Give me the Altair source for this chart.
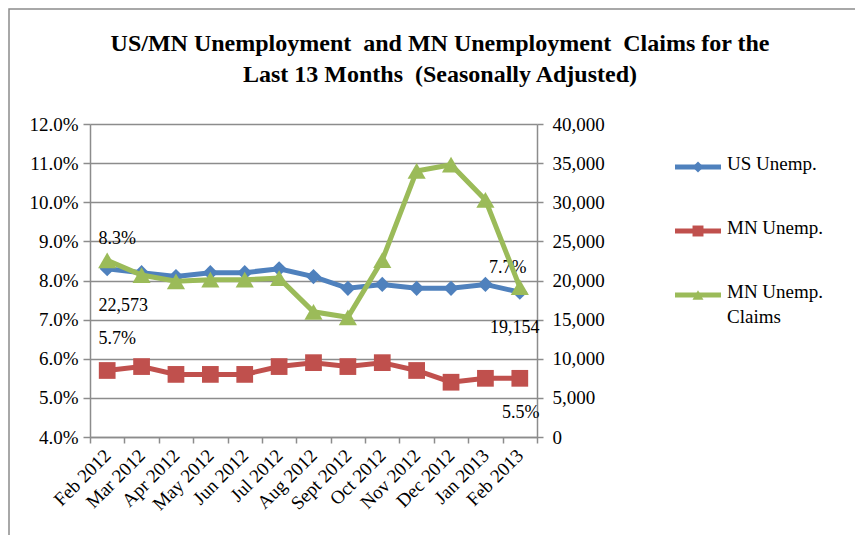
import altair as alt
import pandas as pd

months = ["Feb 2012", "Mar 2012", "Apr 2012", "May 2012", "Jun 2012", "Jul 2012",
          "Aug 2012", "Sept 2012", "Oct 2012", "Nov 2012", "Dec 2012", "Jan 2013", "Feb 2013"]
us_unemp = [8.3, 8.2, 8.1, 8.2, 8.2, 8.3, 8.1, 7.8, 7.9, 7.8, 7.8, 7.9, 7.7]
mn_unemp = [5.7, 5.8, 5.6, 5.6, 5.6, 5.8, 5.9, 5.8, 5.9, 5.7, 5.4, 5.5, 5.5]
mn_claims = [22573, 20700, 19900, 20100, 20100, 20300, 16000, 15300, 22600, 34000, 34800, 30300, 19154]
series_names = ["US Unemp.", "MN Unemp.", "MN Unemp. Claims"]
legend_labels = ["US Unemp.", "MN Unemp.", "MN Unemp.\nClaims"]
series_colors = ["#4F81BD", "#C0504D", "#9BBB59"]
series_shapes = ["diamond", "square", "triangle-up"]
title_lines = ["US/MN Unemployment\u00a0 and MN Unemployment\u00a0 Claims for the",
               "Last 13 Months\u00a0 (Seasonally Adjusted)"]

FONT = "Liberation Serif"
GRAY = "#8C8C8C"
W, H = 447, 313
AX_FS = 19

rates = pd.DataFrame({
    "month": months * 2,
    "series": [series_names[0]] * len(months) + [series_names[1]] * len(months),
    "value": us_unemp + mn_unemp,
})
claims = pd.DataFrame({"month": months, "series": series_names[2], "value": mn_claims})
legend_df = pd.DataFrame({"series": series_names, "label": legend_labels})

color = alt.Color("series:N", scale=alt.Scale(domain=series_names, range=series_colors), legend=None)
shape = alt.Shape("series:N", scale=alt.Scale(domain=series_names, range=series_shapes), legend=None)

band = alt.Scale(type="band", domain=months, paddingInner=0, paddingOuter=0)
x_axis = alt.Axis(title=None, labelAngle=-45, labelAlign="right", labelBaseline="middle",
                  tickBand="extent", tickSize=6, tickColor=GRAY, tickWidth=1.5,
                  domainColor=GRAY, domainWidth=1.5, labelFont=FONT, labelFontSize=AX_FS,
                  labelColor="black", labelPadding=9, grid=False)
x_enc = alt.X("month:N", sort=months, scale=band, bandPosition=0.5, axis=x_axis)

rate_scale = alt.Scale(domain=[4, 12], nice=False, zero=False)
y_rate = alt.Y("value:Q", scale=rate_scale,
               axis=alt.Axis(title=None, values=list(range(4, 13)),
                             labelExpr="format(datum.value, '.1f') + '%'",
                             grid=True, gridColor=GRAY, gridWidth=1.5,
                             tickSize=7, tickColor=GRAY, tickWidth=1.5,
                             domainColor=GRAY, domainWidth=1.5,
                             labelFont=FONT, labelFontSize=AX_FS, labelColor="black", labelPadding=5))

claim_scale = alt.Scale(domain=[0, 40000], nice=False)
y_claims = alt.Y("value:Q", scale=claim_scale,
                 axis=alt.Axis(title=None, orient="right", values=list(range(0, 40001, 5000)),
                               format=",.0f", grid=False,
                               tickSize=6, tickColor=GRAY, tickWidth=1.5,
                               domainColor=GRAY, domainWidth=1.5,
                               labelFont=FONT, labelFontSize=AX_FS, labelColor="black", labelPadding=9))


def label(df, y, dx, dy, fmt):
    d = df.copy()
    d["label"] = d["value"].map(fmt)
    return alt.Chart(d).mark_text(font=FONT, fontSize=18, color="black", dx=dx, dy=dy).encode(
        x=x_enc, y=y, text="label:N")


pct = lambda v: f"{v:.1f}%"
cnt = lambda v: f"{v:,}"

rate_line = alt.Chart(rates).mark_line(strokeWidth=5).encode(x=x_enc, y=y_rate, color=color, detail="series:N")
rate_pts = alt.Chart(rates).mark_point(filled=True, opacity=1).encode(
    x=x_enc, y=y_rate, color=color, shape=shape,
    size=alt.Size("series:N", scale=alt.Scale(domain=series_names, range=[230, 330, 330]), legend=None))
rate_layer = alt.layer(
    rate_line, rate_pts,
    label(pd.DataFrame({"month": [months[0]], "value": [us_unemp[0]]}), y_rate, 10, -30, pct),
    label(pd.DataFrame({"month": [months[-1]], "value": [us_unemp[-1]]}), y_rate, -12, -24, pct),
    label(pd.DataFrame({"month": [months[0]], "value": [mn_unemp[0]]}), y_rate, 10, -31, pct),
    label(pd.DataFrame({"month": [months[-1]], "value": [mn_unemp[-1]]}), y_rate, 1, 35, pct),
)

claim_line = alt.Chart(claims).mark_line(strokeWidth=5).encode(x=x_enc, y=y_claims, color=color)
claim_pts = alt.Chart(claims).mark_point(filled=True, opacity=1, size=330).encode(
    x=x_enc, y=y_claims, color=color, shape=shape)
claim_layer = alt.layer(
    claim_line, claim_pts,
    label(pd.DataFrame({"month": [months[0]], "value": [mn_claims[0]]}), y_claims, 16, 46, cnt),
    label(pd.DataFrame({"month": [months[-1]], "value": [mn_claims[-1]]}), y_claims, -5, 41, cnt),
)

y_leg = alt.Y("series:N", scale=alt.Scale(type="point", domain=series_names, range=[43, 171], padding=0),
              axis=None)
leg_rule = alt.Chart(legend_df).mark_rule(strokeWidth=5).encode(
    x=alt.value(585), x2=alt.value(631), y=y_leg, color=color)
leg_pts = alt.Chart(legend_df).mark_point(filled=True, opacity=1, size=120).encode(
    x=alt.value(608), y=y_leg, color=color, shape=shape)
leg_txt = alt.Chart(legend_df).mark_text(font=FONT, fontSize=19, color="black", align="left",
                                          baseline="top", dy=-12, lineBreak="\n", lineHeight=25).encode(
    x=alt.value(637), y=y_leg, text="label:N")
legend_layer = alt.layer(leg_rule, leg_pts, leg_txt)

title_df = pd.DataFrame({"line": title_lines, "row": [0, 1]})
y_title = alt.Y("row:O", scale=alt.Scale(type="point", domain=[0, 1], range=[-80, -49], padding=0), axis=None)
title_layer = alt.Chart(title_df).mark_text(font=FONT, fontSize=24, fontWeight="bold", color="black",
                                             align="center", baseline="middle").encode(
    x=alt.value(350), y=y_title, text="line:N")

frame = alt.Chart(pd.DataFrame({"k": [0]})).mark_rect(fill=None, stroke=GRAY, strokeWidth=1.5).encode(
    x=alt.value(-81), x2=alt.value(W + 330), y=alt.value(-115), y2=alt.value(H + 120))

chart = alt.layer(frame, title_layer, rate_layer, claim_layer, legend_layer).resolve_scale(
    y="independent"
).properties(
    width=W, height=H,
    autosize=alt.AutoSizeParams(type="none"),
    padding={"left": 82, "top": 116, "right": 318, "bottom": 98},
).configure_view(stroke=None)

chart.save("out.html", embed_options={"renderer": "svg", "actions": False})
